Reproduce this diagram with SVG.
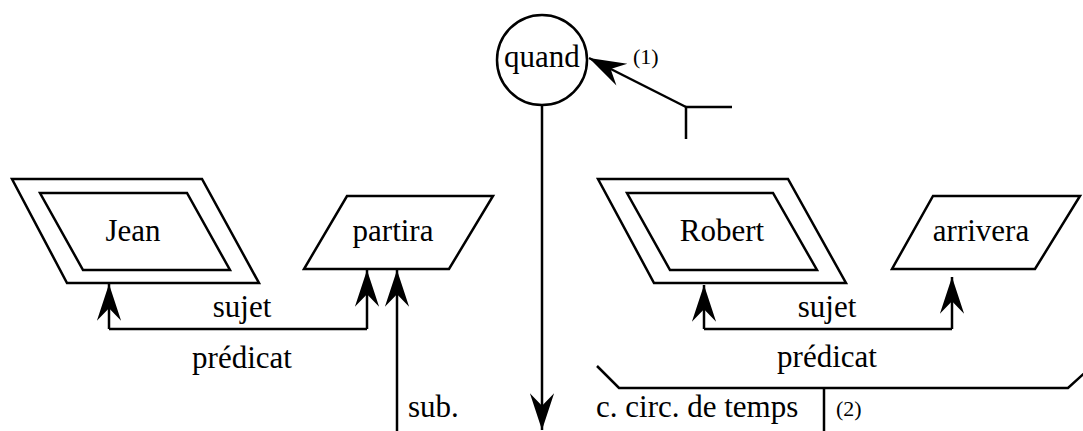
<svg xmlns="http://www.w3.org/2000/svg" width="1083" height="431" viewBox="0 0 1083 431">
<defs>
<style>
.ln{fill:none;stroke:#000;stroke-width:2.5}
.sh{fill:#fff;stroke:#000;stroke-width:2.5;stroke-linejoin:miter}
.t{font-family:"Liberation Serif","Times New Roman",serif;font-size:31px;fill:#000}
.s{font-family:"Liberation Serif","Times New Roman",serif;font-size:22px;fill:#000}
.c{text-anchor:middle}
</style>
<marker id="ah" markerUnits="userSpaceOnUse" markerWidth="40" markerHeight="30" viewBox="-36 -13 38 26" refX="0" refY="0" orient="auto">
<path d="M0,0 L-35,-11.5 L-23,0 L-35,11.5 Z" fill="#000"/>
</marker>
</defs>
<rect width="1083" height="431" fill="#fff"/>
<g id="node-jean">
<polygon class="sh" points="12,179 202,179 259,283 67,283"/>
<polygon class="sh" points="40,193 187,193 230,270 83,270"/>
<text class="t c" x="133" y="241">Jean</text>
</g>
<g id="node-partira">
<polygon class="sh" points="347,196 493,196 449,269 304,269"/>
<text class="t c" x="393" y="241">partira</text>
</g>
<g id="node-quand">
<circle class="sh" cx="542" cy="60" r="45"/>
<text class="t c" x="542" y="67">quand</text>
</g>
<g id="node-robert">
<polygon class="sh" points="598,179 788,179 846,283 654,283"/>
<polygon class="sh" points="627,193 773,193 817,270 670,270"/>
<text class="t c" x="722" y="241">Robert</text>
</g>
<g id="node-arrivera">
<polygon class="sh" points="933,196 1080,196 1035,269 892,269"/>
<text class="t c" x="981" y="241">arrivera</text>
</g>
<g id="connectors">
<polyline class="ln" points="109,329 367,329"/>
<line class="ln" x1="109" y1="329" x2="109" y2="284" marker-end="url(#ah)"/>
<line class="ln" x1="367" y1="329" x2="367" y2="270" marker-end="url(#ah)"/>
<line class="ln" x1="397" y1="431" x2="397" y2="270" marker-end="url(#ah)"/>
<polyline class="ln" points="704,329 952,329"/>
<line class="ln" x1="704" y1="329" x2="704" y2="285" marker-end="url(#ah)"/>
<line class="ln" x1="952" y1="329" x2="952" y2="277" marker-end="url(#ah)"/>
<line class="ln" x1="542" y1="105" x2="542" y2="430" marker-end="url(#ah)"/>
<polyline class="ln" points="732,107 686,107 686,139"/>
<line class="ln" x1="686" y1="107" x2="589" y2="58" marker-end="url(#ah)"/>
<polyline class="ln" points="597,366 619,388 1068,388 1090,368"/>
<line class="ln" x1="824" y1="388" x2="824" y2="431"/>
</g>
<g id="labels">
<text class="t c" x="242" y="317">sujet</text>
<text class="t c" x="242" y="368">prédicat</text>
<text class="t" x="408" y="417">sub.</text>
<text class="t c" x="827" y="317">sujet</text>
<text class="t c" x="827" y="367">prédicat</text>
<text class="t" x="596" y="417">c. circ. de temps</text>
<text class="s" x="836" y="416">(2)</text>
<text class="s" x="633" y="64">(1)</text>
</g>
</svg>
